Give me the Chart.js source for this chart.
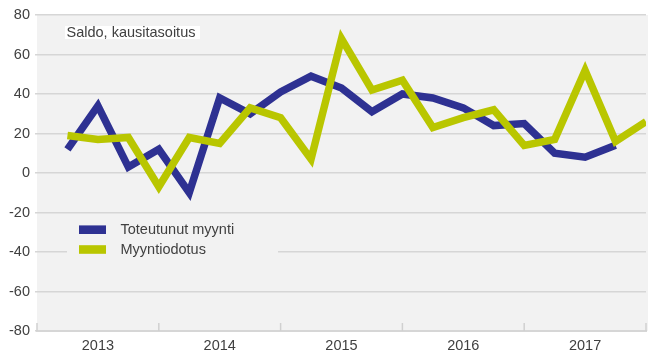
<!DOCTYPE html>
<html>
<head>
<meta charset="utf-8">
<script src="https://cdn.jsdelivr.net/npm/chart.js@4/dist/chart.umd.min.js"></script>
<style>
  html, body { margin: 0; padding: 0; background: #fff; }
  #wrap { width: 648px; height: 354px; position: relative; }
</style>
</head>
<body>
<div id="wrap"><canvas id="chart"></canvas></div>
<script>
// Quarterly balance figures, 2013 Q1 onwards
const years = ["2013", "2014", "2015", "2016", "2017"]
const toteutunut = [12, 34, 3, 12, -10, 38, 30, 41, 49, 43, 31, 40, 38, 33, 24, 25, 10, 8, 14]
const odotus = [19, 17, 18, -7, 18, 15, 33, 28, 7, 68, 42, 47, 23, 28, 32, 14, 17, 52, 16, 26]
const yTicks = [-80, -60, -40, -20, 0, 20, 40, 60, 80]

const BLUE = "#2E3192"
const GREEN = "#B9C600"
const TEXT = "#404040"
const FONT = "Liberation Sans, Arial, sans-serif"

const toPoints = (arr) => arr.map((v, i) => ({ x: i + 1, y: v }))

// plot background, subtitle box, legend and inward year ticks
const decorations = {
  id: "decorations",
  beforeDraw(chart) {
    const { ctx, chartArea: a } = chart
    ctx.save()
    ctx.fillStyle = "#F2F2F2"
    ctx.fillRect(a.left, a.top, chart.width - a.left, a.bottom - a.top)
    ctx.restore()
  },
  beforeDatasetsDraw(chart) {
    const { ctx, chartArea: a } = chart
    const x = chart.scales.x
    ctx.save()
    // year separators on the bottom axis
    ctx.strokeStyle = "#D0D0D0"
    ctx.lineWidth = 1.5
    for (let i = 0; i <= years.length; i++) {
      const px = x.getPixelForValue(i * 4)
      ctx.beginPath()
      ctx.moveTo(px, a.bottom)
      ctx.lineTo(px, a.bottom - 8)
      ctx.stroke()
    }
    // subtitle
    ctx.fillStyle = "#FFFFFF"
    ctx.fillRect(65, 26, 135, 13)
    ctx.fillStyle = TEXT
    ctx.font = "14.5px " + FONT
    ctx.textBaseline = "middle"
    ctx.fillText("Saldo, kausitasoitus", 66.5, 32.5)
    // legend
    ctx.fillStyle = "#F2F2F2"
    ctx.fillRect(67, 217, 211, 41)
    chart.data.datasets.forEach((ds, i) => {
      const cy = 229.7 + i * 19.8
      ctx.fillStyle = ds.borderColor
      ctx.fillRect(79, cy - 4.3, 27, 8.6)
      ctx.fillStyle = TEXT
      ctx.fillText(ds.label, 120.5, cy)
    })
    ctx.restore()
  }
}

new Chart(document.getElementById("chart"), {
  type: "line",
  data: {
    datasets: [
      {
        label: "Toteutunut myynti",
        data: toPoints(toteutunut),
        borderColor: BLUE,
        backgroundColor: BLUE,
        borderWidth: 7.5,
        pointRadius: 0,
        tension: 0,
        order: 1
      },
      {
        // expectation line sits on top of the actual sales line
        label: "Myyntiodotus",
        data: toPoints(odotus),
        borderColor: GREEN,
        backgroundColor: GREEN,
        borderWidth: 7.5,
        pointRadius: 0,
        tension: 0,
        order: 0
      }
    ]
  },
  options: {
    responsive: true,
    maintainAspectRatio: false,
    animation: false,
    layout: { padding: { top: 15, right: 2, left: 0, bottom: 0 } },
    plugins: {
      legend: { display: false },
      tooltip: { enabled: false }
    },
    scales: {
      x: {
        type: "linear",
        min: 0,
        max: years.length * 4,
        afterBuildTicks: (scale) => {
          scale.ticks = years.map((_, i) => ({ value: i * 4 + 2 }))
        },
        afterFit: (scale) => { scale.height = 23 },
        grid: { display: false, drawTicks: false },
        border: { display: true, color: "#D6D6D6", width: 2 },
        ticks: {
          autoSkip: false,
          maxRotation: 0,
          padding: 6,
          color: TEXT,
          font: { family: FONT, size: 14.5 },
          callback: (val) => years[Math.floor(val / 4)]
        }
      },
      y: {
        min: -80,
        max: 80,
        afterBuildTicks: (scale) => {
          scale.ticks = yTicks.map((v) => ({ value: v }))
        },
        afterFit: (scale) => { scale.width = 37 },
        grid: { color: "#D6D6D6", lineWidth: 1.5, drawTicks: true, tickLength: 2 },
        border: { display: false },
        ticks: {
          padding: 5,
          color: TEXT,
          font: { family: FONT, size: 14.5 }
        }
      }
    }
  },
  plugins: [decorations]
})
</script>
</body>
</html>
